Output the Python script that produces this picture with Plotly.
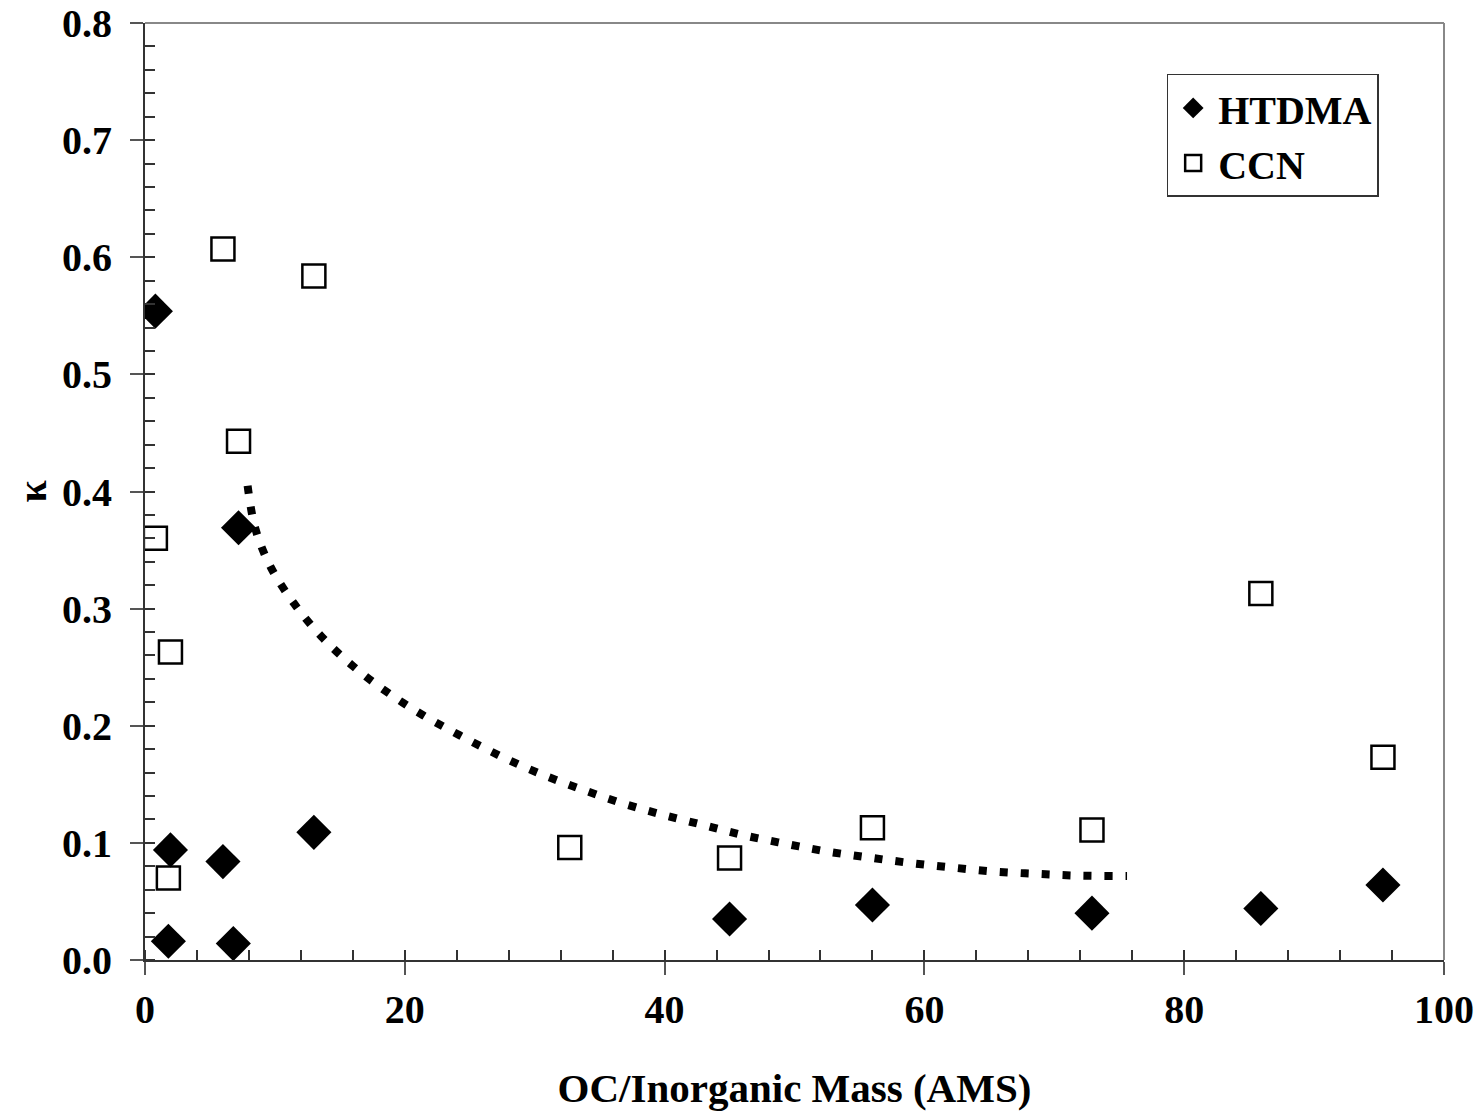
import plotly.graph_objects as go

# HTDMA kappa values
htdma_x = [0.8, 1.96, 1.8, 6.0, 6.8, 7.2, 13.0, 45.0, 56.0, 72.9, 85.9, 95.3]
htdma_y = [0.554, 0.094, 0.016, 0.084, 0.014, 0.369, 0.109, 0.035, 0.047, 0.040, 0.044, 0.064]

# CCN kappa values
ccn_x = [6.0, 13.0, 7.2, 0.8, 1.96, 1.8, 32.7, 45.0, 56.0, 72.9, 85.9, 95.3]
ccn_y = [0.607, 0.584, 0.443, 0.360, 0.263, 0.070, 0.096, 0.087, 0.113, 0.111, 0.313, 0.173]

# Fitted trend curve
fit_x = [7.9, 8.5, 9.7, 11.5, 13.6, 16.0, 18.6, 21.4, 24.2, 27.2, 30.2, 33.3,
         36.4, 39.5, 42.7, 45.9, 49.1, 52.3, 55.6, 58.8, 62.1, 65.4, 68.7, 72.0, 75.6]
fit_y = [0.405, 0.368, 0.335, 0.304, 0.276, 0.251, 0.229, 0.209, 0.192, 0.175, 0.160, 0.147,
         0.135, 0.125, 0.116, 0.107, 0.0997, 0.093, 0.0877, 0.083, 0.079, 0.0755, 0.0735, 0.072, 0.0717]

# Tick values / labels
y_ticks = [0.0, 0.1, 0.2, 0.3, 0.4, 0.5, 0.6, 0.7, 0.8]
y_tick_labels = ["0.0", "0.1", "0.2", "0.3", "0.4", "0.5", "0.6", "0.7", "0.8"]
x_ticks = [0, 20, 40, 60, 80, 100]

FONT = "Liberation Serif, Times New Roman, serif"

fig = go.Figure()
fig.add_trace(go.Scatter(
    x=fit_x, y=fit_y, mode="lines", showlegend=False,
    line=dict(color="black", width=8, dash="8px,13px", shape="spline"),
    hoverinfo="skip"))
fig.add_trace(go.Scatter(
    x=htdma_x, y=htdma_y, mode="markers", name="HTDMA",
    marker=dict(symbol="diamond", size=27, color="black", line=dict(width=0))))
fig.add_trace(go.Scatter(
    x=ccn_x, y=ccn_y, mode="markers", name="CCN",
    marker=dict(symbol="square-open", size=23, color="black", line=dict(width=2.5, color="black"))))

axis_common = dict(
    showgrid=False, zeroline=False, showline=True, linecolor="#333333", linewidth=2,
    ticks="outside", ticklen=13, tickwidth=2, tickcolor="#555555", automargin=False,
    ticklabeloverflow="allow",
    tickfont=dict(family=FONT, size=40, color="black", weight="bold"),
)

fig.update_xaxes(
    range=[0, 100], tickmode="array", tickvals=x_ticks,
    minor=dict(ticks="inside", ticklen=10, dtick=4, tick0=0, tickwidth=2, tickcolor="#333333"),
    title=dict(text="OC/Inorganic Mass (AMS)", font=dict(family=FONT, size=41, color="black", weight="bold"), standoff=42),
    **axis_common)
fig.update_yaxes(
    range=[0, 0.8], tickmode="array", tickvals=y_ticks, ticktext=y_tick_labels, ticklabelstandoff=10,
    minor=dict(ticks="inside", ticklen=10, dtick=0.02, tick0=0, tickwidth=2, tickcolor="#333333"),
    title=dict(text="κ", font=dict(family=FONT, size=40, color="black", weight="bold"), standoff=3),
    **axis_common)

fig.add_shape(type="line", xref="paper", yref="paper", x0=0, x1=1, y0=1, y1=1,
              line=dict(color="#888888", width=2))
fig.add_shape(type="line", xref="paper", yref="paper", x0=1, x1=1, y0=0, y1=1,
              line=dict(color="#888888", width=2))

fig.update_layout(
    width=1484, height=1112,
    margin=dict(l=144.5, r=39.5, t=23, b=152, autoexpand=False),
    plot_bgcolor="white", paper_bgcolor="white",
    legend=dict(x=0.7865, y=0.9456, xanchor="left", yanchor="top",
                bordercolor="#333333", borderwidth=1.5, bgcolor="white",
                font=dict(family=FONT, size=40, color="black", weight="bold"),
                itemwidth=40, tracegroupgap=0),
)

fig.write_html("out.html",
               config={"displayModeBar": False},
               post_script="document.body.style.margin='0';document.body.style.overflow='hidden';")
